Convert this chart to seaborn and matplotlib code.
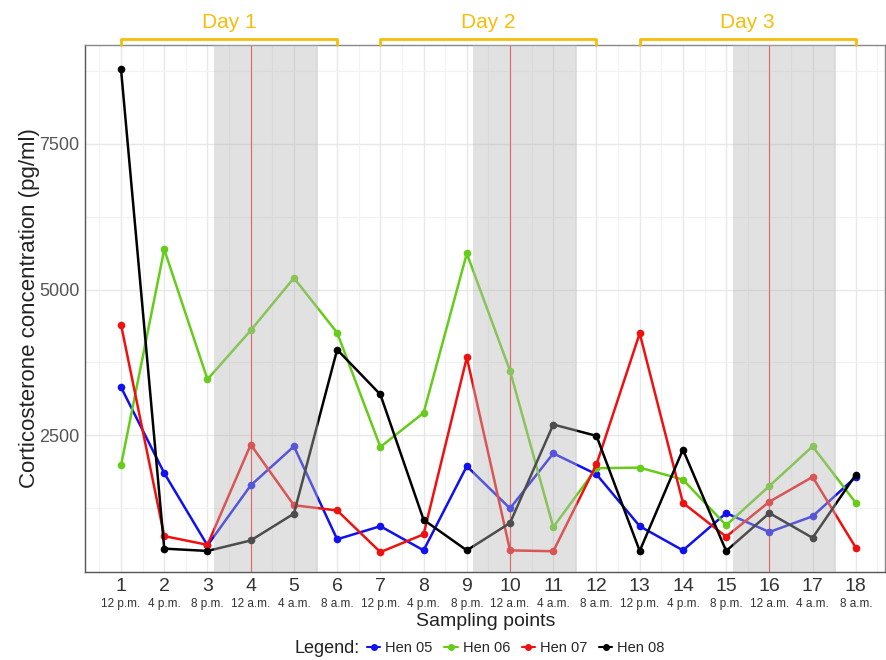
import numpy as np
import pandas as pd
import matplotlib.pyplot as plt
import seaborn as sns
from matplotlib.lines import Line2D

# sampling points and clock times
points = list(range(1, 19))
times = ["12 p.m.", "4 p.m.", "8 p.m.", "12 a.m.", "4 a.m.", "8 a.m."] * 3

hen05 = [3325, 1850, 610, 1640, 2310, 715, 940, 525, 1970, 1245,
         2190, 1830, 940, 525, 1165, 840, 1110, 1785]
hen06 = [1985, 5690, 3460, 4300, 5200, 4260, 2300, 2885, 5620, 3605,
         925, 1935, 1945, 1740, 955, 1630, 2310, 1340]
hen07 = [4400, 770, 620, 2340, 1300, 1210, 495, 800, 3835, 525,
         510, 2000, 4250, 1340, 760, 1360, 1785, 570]
hen08 = [8780, 555, 515, 695, 1155, 3970, 3200, 1050, 525, 995,
         2685, 2490, 515, 2255, 515, 1165, 740, 1825]

hens = ["Hen 05", "Hen 06", "Hen 07", "Hen 08"]
colors = ["#1010F0", "#66CC1A", "#F01010", "#000000"]
days = ["Day 1", "Day 2", "Day 3"]
day_start = [1, 7, 13]
night_start = [3.15, 9.15, 15.15]
midnight = [4, 10, 16]

df = pd.DataFrame({
    "point": points * 4,
    "value": hen05 + hen06 + hen07 + hen08,
    "hen": np.repeat(hens, 18),
})

sns.set_theme(style="whitegrid")
plt.rcParams["font.family"] = ["Liberation Sans", "DejaVu Sans"]

fig = plt.figure(figsize=(8.87, 6.6), dpi=100)
ax = fig.add_axes([0.096, 0.133, 0.902, 0.799])

sns.lineplot(data=df, x="point", y="value", hue="hen", palette=colors,
             marker="o", markersize=5.5, markeredgewidth=0, linewidth=1.8,
             legend=False, ax=ax, zorder=3)

for m in midnight:
    ax.axvline(m, color="#FF3030", lw=0.8, zorder=2)
for s in night_start:
    ax.axvspan(s, s + 2.4, color="#B8B8B8", alpha=0.42, lw=0, zorder=4)

ax.set_xlim(0.17, 18.68)
ax.set_ylim(150, 9200)
ax.set_xticks(points)
ax.set_xticks(np.arange(0.5, 19, 1), minor=True)
ax.set_xticklabels([str(p) for p in points], fontsize=14, color="#333333")
ax.set_yticks([2500, 5000, 7500])
ax.set_yticks([1250, 3750, 6250, 8750], minor=True)
ax.set_yticklabels(["2500", "5000", "7500"], fontsize=13, color="#555555")
ax.grid(which="major", color="#E8E8E8", lw=1.0)
ax.grid(which="minor", color="#F2F2F2", lw=0.8)
ax.tick_params(axis="both", which="major", length=3, width=0.8, color="#555555", pad=1)
ax.tick_params(axis="both", which="minor", length=0)
for sp in ax.spines.values():
    sp.set_color("#888888")
    sp.set_linewidth(1.0)
ax.spines["left"].set_color("#555555")
ax.spines["bottom"].set_color("#555555")

trans = ax.get_xaxis_transform()
for p, t in zip(points, times):
    ax.text(p, -0.06, t, transform=trans, ha="center", va="center",
            fontsize=8.5, color="#333333")

ax.set_xlabel("Sampling points", fontsize=14, color="#222222", labelpad=13)
ax.set_ylabel("Corticosterone concentration (pg/ml)", fontsize=16, color="#222222")
ax.yaxis.set_label_coords(-0.057, 0.5)

gold = "#F5BE0B"
for d, s in zip(days, day_start):
    ax.plot([s, s, s + 5, s + 5], [1.0, 1.0115, 1.0115, 1.0], transform=trans,
            color=gold, lw=2, clip_on=False, zorder=6)
    ax.text(s + 2.5, 1.042, d, transform=trans, ha="center", va="center",
            fontsize=15, color=gold)

handles = [Line2D([], [], color=c, marker="o", markersize=4, lw=1.5) for c in colors]
fig.text(0.406, 0.018, "Legend:", fontsize=13, color="#222222", ha="right", va="center")
fig.legend(handles, hens, loc="center left", bbox_to_anchor=(0.414, 0.018), ncol=4,
           frameon=False, fontsize=10.5, handlelength=0.9, handletextpad=0.35,
           columnspacing=0.8, borderpad=0.0, borderaxespad=0.0)

fig.savefig("out.png", dpi=100)
